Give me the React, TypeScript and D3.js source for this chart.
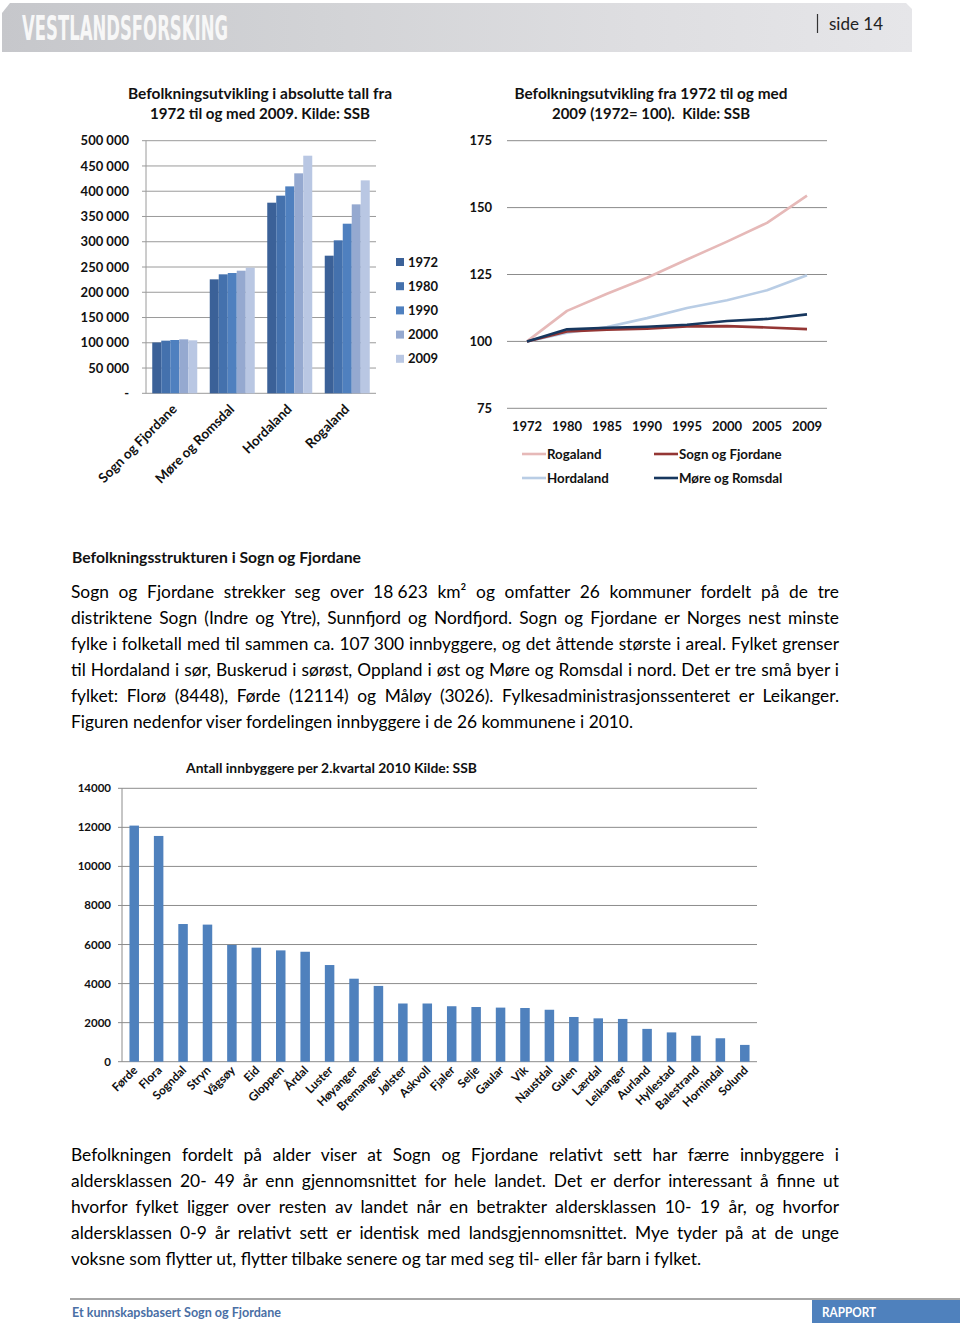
import React from "react";
import * as d3 from "d3";

// ---------- DATA ----------
const regions = ["Sogn og Fjordane", "Møre og Romsdal", "Hordaland", "Rogaland"];
const barYears = ["1972", "1980", "1990", "2000", "2009"];
const pop1972 = [100600, 225600, 377300, 272400];
const pop1980 = [104200, 235500, 391200, 302800];
const pop1990 = [105500, 238100, 409600, 335700];
const pop2000 = [106800, 242700, 435400, 374000];
const pop2009 = [104900, 248700, 470300, 421500];
const popTicks = [0, 50000, 100000, 150000, 200000, 250000, 300000, 350000, 400000, 450000, 500000];

const idxYears = ["1972", "1980", "1985", "1990", "1995", "2000", "2005", "2009"];
const idxRogaland = [100, 111.4, 117.8, 123.8, 130.6, 137.3, 144.3, 154.5];
const idxHordaland = [100, 103.2, 105.4, 108.7, 112.5, 115.4, 119.1, 124.7];
const idxSogn = [100, 103.7, 104.4, 104.7, 105.6, 105.7, 105.2, 104.6];
const idxMore = [100, 104.5, 105.1, 105.5, 106.2, 107.6, 108.4, 110.1];
const idxTicks = [75, 100, 125, 150, 175];

const kommuner = ["Førde", "Flora", "Sogndal", "Stryn", "Vågsøy", "Eid", "Gloppen", "Årdal", "Luster", "Høyanger", "Bremanger", "Jølster", "Askvoll", "Fjaler", "Selje", "Gaular", "Vik", "Naustdal", "Gulen", "Lærdal", "Leikanger", "Aurland", "Hyllestad", "Balestrand", "Hornindal", "Solund"];
const innbyggere = [12090, 11560, 7050, 7020, 5980, 5840, 5700, 5630, 4950, 4250, 3880, 2980, 2980, 2840, 2800, 2770, 2750, 2660, 2290, 2220, 2190, 1680, 1500, 1330, 1200, 860];
const komTicks = [0, 2000, 4000, 6000, 8000, 10000, 12000, 14000];

const para1 = [
  "Sogn og Fjordane strekker seg over 18\u202F623 km² og omfatter 26 kommuner fordelt på de tre",
  "distriktene Sogn (Indre og Ytre), Sunnfjord og Nordfjord. Sogn og Fjordane er Norges nest minste",
  "fylke i folketall med til sammen ca. 107\u202F300 innbyggere, og det åttende største i areal. Fylket grenser",
  "til Hordaland i sør, Buskerud i sørøst, Oppland i øst og Møre og Romsdal i nord. Det er tre små byer i",
  "fylket: Florø (8448), Førde (12114) og Måløy (3026). Fylkesadministrasjonssenteret er Leikanger.",
  "Figuren nedenfor viser fordelingen innbyggere i de 26 kommunene i 2010.",
];
const para2 = [
  "Befolkningen fordelt på alder viser at Sogn og Fjordane relativt sett har færre innbyggere i",
  "aldersklassen 20- 49 år enn gjennomsnittet for hele landet. Det er derfor interessant å finne ut",
  "hvorfor fylket ligger over resten av landet når en betrakter aldersklassen 10- 19 år, og hvorfor",
  "aldersklassen 0-9 år relativt sett er identisk med landsgjennomsnittet. Mye tyder på at de unge",
  "voksne som flytter ut, flytter tilbake senere og tar med seg til- eller får barn i fylket.",
];

// ---------- HELPERS ----------
const FONT = "Lato, 'Open Sans', sans-serif";
let ctx: CanvasRenderingContext2D | null = null;
function measure(t: string, font: string): number {
  if (!ctx && typeof document !== "undefined") {
    ctx = document.createElement("canvas").getContext("2d");
  }
  if (!ctx) return t.length * 8;
  ctx.font = font;
  return ctx.measureText(t).width;
}

const BODY_SIZE = 17.5;
const BODY_FONT = `${BODY_SIZE}px Lato`;
const TEXT_LEFT = 71;
const TEXT_W = 768;

function Paragraph({ lines, y0, lastNatural }: { lines: string[]; y0: number; lastNatural: number }) {
  const k = lastNatural / measure(lines[lines.length - 1], BODY_FONT);
  return (
    <g fontFamily={FONT} fontSize={BODY_SIZE} fill="#000">
      {lines.map((line, i) => {
        const last = i === lines.length - 1;
        const nat = measure(line, BODY_FONT);
        const spaces = (line.match(/ /g) || []).length;
        const ws = last ? 0 : (TEXT_W / k - nat) / Math.max(1, spaces);
        const tl = last ? nat * k : TEXT_W;
        return (
          <text
            key={i}
            x={TEXT_LEFT}
            y={y0 + i * 26}
            textLength={tl}
            lengthAdjust="spacingAndGlyphs"
            style={{ wordSpacing: `${ws}px`, whiteSpace: "pre" }}
          >
            {line}
          </text>
        );
      })}
    </g>
  );
}

function T(props: any) {
  const { w, children, ...rest } = props;
  return (
    <text {...rest} textLength={w} lengthAdjust={w ? "spacingAndGlyphs" : undefined} style={{ whiteSpace: "pre" }}>
      {children}
    </text>
  );
}

// ---------- CHART 1 ----------
function BarChart1() {
  const x0 = 146, x1 = 376, yTop = 140.7, yBot = 393.3;
  const y = d3.scaleLinear().domain([0, 500000]).range([yBot, yTop]);
  const xg = d3.scaleBand().domain(regions).range([x0, x1]).padding(0);
  const series = [pop1972, pop1980, pop1990, pop2000, pop2009];
  const colors = ["#3b6198", "#4471ad", "#4f80bf", "#95a9d0", "#b9c7e3"];
  const inner = d3.scaleBand().domain(barYears).range([0, 45]).padding(0);
  const off = (xg.bandwidth() - 45) / 2;
  return (
    <g fontFamily={FONT}>
      <T x={260} y={99} textAnchor="middle" fontWeight="bold" fontSize={15} fill="#111" w={264}>Befolkningsutvikling i absolutte tall fra</T>
      <T x={260} y={119} textAnchor="middle" fontWeight="bold" fontSize={15} fill="#111" w={220}>1972 til og med 2009. Kilde: SSB</T>
      {popTicks.map((t) => (
        <g key={t}>
          <line x1={x0 - 4} x2={x1} y1={y(t)} y2={y(t)} stroke="#9a9a9a" strokeWidth={1} />
          <text x={129} y={y(t)} dy="0.35em" textAnchor="end" fontWeight="bold" fontSize={13} fill="#111">
            {t === 0 ? "-" : d3.format(",")(t).replace(/,/g, " ")}
          </text>
        </g>
      ))}
      <line x1={x0} x2={x0} y1={yTop} y2={yBot} stroke="#9a9a9a" />
      {regions.map((r, gi) => (
        <g key={r}>
          {barYears.map((yr, si) => (
            <rect
              key={yr}
              x={(xg(r) as number) + off + (inner(yr) as number)}
              y={y(series[si][gi])}
              width={inner.bandwidth()}
              height={yBot - y(series[si][gi])}
              fill={colors[si]}
            />
          ))}
          <text
            transform={`translate(${(xg(r) as number) + xg.bandwidth() / 2 + 3},${410}) rotate(-45)`}
            textAnchor="end"
            fontWeight="bold"
            fontSize={13.5}
            fill="#111"
          >
            {r}
          </text>
        </g>
      ))}
      {barYears.map((yr, si) => (
        <g key={yr}>
          <rect x={396} y={262 + si * 24.2 - 4} width={8} height={8} fill={colors[si]} />
          <text x={408} y={262 + si * 24.2} dy="0.35em" fontWeight="bold" fontSize={13} fill="#111">{yr}</text>
        </g>
      ))}
    </g>
  );
}

// ---------- CHART 2 ----------
function LineChart2() {
  const x0 = 507, x1 = 827;
  const y = d3.scaleLinear().domain([75, 175]).range([408.3, 140.7]);
  const x = d3.scalePoint().domain(idxYears).range([x0, x1]).padding(0.5);
  const line = d3.line<number>().x((_, i) => x(idxYears[i]) as number).y((v) => y(v));
  const series = [
    { name: "Hordaland", data: idxHordaland, color: "#b9cde5" },
    { name: "Rogaland", data: idxRogaland, color: "#e6b9b8" },
    { name: "Sogn og Fjordane", data: idxSogn, color: "#943634" },
    { name: "Møre og Romsdal", data: idxMore, color: "#17375e" },
  ];
  const legend = [
    { name: "Rogaland", color: "#e6b9b8", lx: 522, ly: 454 },
    { name: "Sogn og Fjordane", color: "#943634", lx: 654, ly: 454 },
    { name: "Hordaland", color: "#b9cde5", lx: 522, ly: 478 },
    { name: "Møre og Romsdal", color: "#17375e", lx: 654, ly: 478 },
  ];
  return (
    <g fontFamily={FONT}>
      <T x={651} y={99} textAnchor="middle" fontWeight="bold" fontSize={15} fill="#111" w={273}>Befolkningsutvikling fra 1972 til og med</T>
      <T x={651} y={119} textAnchor="middle" fontWeight="bold" fontSize={15} fill="#111" w={198}>2009 (1972= 100).  Kilde: SSB</T>
      {idxTicks.map((t) => (
        <g key={t}>
          <line x1={x0} x2={x1} y1={y(t)} y2={y(t)} stroke="#8c8c8c" strokeWidth={1} />
          <text x={492} y={y(t)} dy="0.35em" textAnchor="end" fontWeight="bold" fontSize={13} fill="#111">{t}</text>
        </g>
      ))}
      {idxYears.map((yr) => (
        <text key={yr} x={x(yr) as number} y={426} dy="0.35em" textAnchor="middle" fontWeight="bold" fontSize={13} fill="#111">{yr}</text>
      ))}
      {series.map((s) => (
        <path key={s.name} d={line(s.data) as string} fill="none" stroke={s.color} strokeWidth={2.6} strokeLinejoin="round" />
      ))}
      {legend.map((l) => (
        <g key={l.name}>
          <line x1={l.lx} x2={l.lx + 24} y1={l.ly} y2={l.ly} stroke={l.color} strokeWidth={2.6} />
          <text x={l.lx + 25} y={l.ly} dy="0.35em" fontWeight="bold" fontSize={13.3} fill="#111">{l.name}</text>
        </g>
      ))}
    </g>
  );
}

// ---------- CHART 3 ----------
function BarChart3() {
  const x0 = 122, x1 = 757;
  const y = d3.scaleLinear().domain([0, 14000]).range([1061.7, 788.3]);
  const x = d3.scaleBand().domain(kommuner).range([x0, x1]).padding(0);
  const bw = 9.5;
  return (
    <g fontFamily={FONT}>
      <T x={186} y={773} fontWeight="bold" fontSize={14} fill="#111" w={291}>Antall innbyggere per 2.kvartal 2010 Kilde: SSB</T>
      {komTicks.map((t) => (
        <g key={t}>
          <line x1={x0 - 4} x2={x1} y1={y(t)} y2={y(t)} stroke="#8c8c8c" strokeWidth={1} />
          <text x={111} y={y(t)} dy="0.35em" textAnchor="end" fontWeight="bold" fontSize={11.5} fill="#111">{t}</text>
        </g>
      ))}
      <line x1={x0} x2={x0} y1={y(14000)} y2={y(0)} stroke="#8c8c8c" />
      {kommuner.map((k, i) => {
        const cx = (x(k) as number) + x.bandwidth() / 2;
        return (
          <g key={k}>
            <rect x={cx - bw / 2} y={y(innbyggere[i])} width={bw} height={y(0) - y(innbyggere[i])} fill="#4f81bd" />
            <text transform={`translate(${cx + 4},${1071}) rotate(-45)`} textAnchor="end" fontWeight="bold" fontSize={11.8} fill="#111">{k}</text>
          </g>
        );
      })}
    </g>
  );
}

// ---------- PAGE ----------
export default function App() {
  return (
    <svg width={960} height={1328} viewBox="0 0 960 1328" style={{ position: "absolute", left: 0, top: 0, background: "#fff" }}>
      <defs>
        <linearGradient id="hdr" x1="0" x2="1" y1="0" y2="0">
          <stop offset="0" stopColor="#c6c7cb" />
          <stop offset="0.35" stopColor="#d2d3d6" />
          <stop offset="0.7" stopColor="#dedee1" />
          <stop offset="1" stopColor="#e6e6e9" />
        </linearGradient>
      </defs>
      <rect x={0} y={0} width={960} height={1328} fill="#fff" />
      {/* header */}
      <path d="M2,13 L10,3 L906,3 L912,9 L912,52 L2,52 Z" fill="url(#hdr)" />
      <T x={22} y={40} fontFamily="'DejaVu Sans Condensed', 'DejaVu Sans', sans-serif" fontWeight="bold" fontSize={34} fill="#f7f7f7" w={206}>VESTLANDSFORSKING</T>
      <line x1={817.5} x2={817.5} y1={14} y2={33} stroke="#333" strokeWidth={1.2} />
      <T x={829} y={30} fontFamily={FONT} fontSize={17} fill="#222" w={54}>side 14</T>

      <BarChart1 />
      <LineChart2 />

      <T x={72} y={563} fontFamily={FONT} fontWeight="bold" fontSize={16} fill="#111" w={289}>Befolkningsstrukturen i Sogn og Fjordane</T>
      <Paragraph lines={para1} y0={598} lastNatural={562} />

      <BarChart3 />

      <Paragraph lines={para2} y0={1161} lastNatural={630} />

      {/* footer */}
      <line x1={70} x2={960} y1={1299} y2={1299} stroke="#a6a6a6" strokeWidth={2} />
      <T x={72} y={1317} fontFamily={FONT} fontWeight="bold" fontSize={12.5} fill="#4a6fa5" w={209}>Et kunnskapsbasert Sogn og Fjordane</T>
      <rect x={812} y={1300} width={148} height={23} fill="#4f81bd" />
      <T x={822} y={1317} fontFamily={FONT} fontWeight="bold" fontSize={12.5} fill="#fff" w={54}>RAPPORT</T>
    </svg>
  );
}
